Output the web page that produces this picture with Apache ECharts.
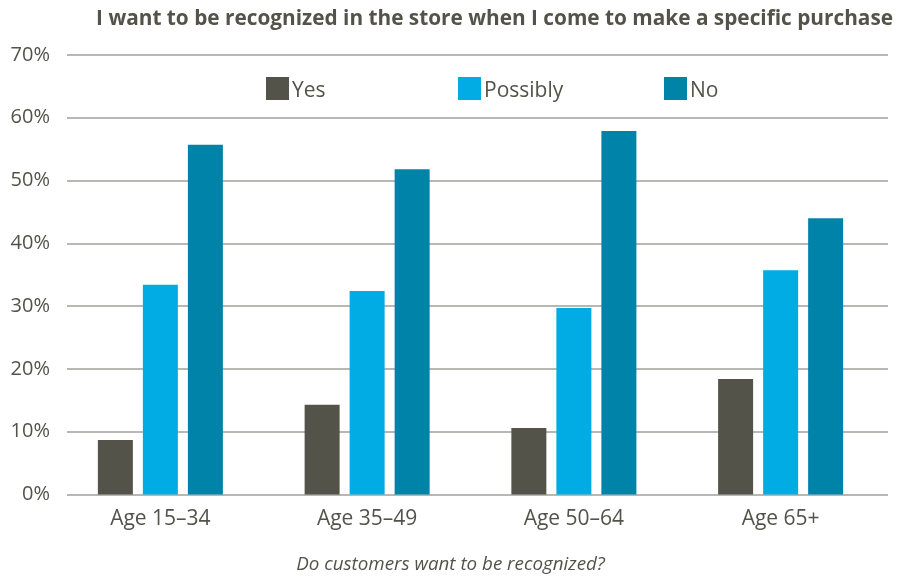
<!DOCTYPE html>
<html>
<head>
<meta charset="utf-8">
<script src="https://cdn.jsdelivr.net/npm/echarts@6/dist/echarts.min.js"></script>
<style>html,body{margin:0;padding:0;background:#fff;}#c{width:901px;height:576px;}</style>
</head>
<body>
<div id="c"></div>
<script>
var categories = ['Age 15–34', 'Age 35–49', 'Age 50–64', 'Age 65+'];
var seriesNames = ['Yes', 'Possibly', 'No'];
var yesValues = [8.7, 14.3, 10.6, 18.4];
var possiblyValues = [33.4, 32.4, 29.7, 35.7];
var noValues = [55.7, 51.8, 57.9, 44.0];
var yTicks = [0, 10, 20, 30, 40, 50, 60, 70];

var textColor = '#53534a';
var colors = ['#53534a', '#00ace3', '#0083a9'];
var font = '"Open Sans", sans-serif';

var chart = echarts.init(document.getElementById('c'), null, {renderer: 'canvas'});
var legendLefts = [266, 458, 664];
var option = {
  animation: false,
  color: colors,
  title: {
    text: 'I want to be recognized in the store when I come to make a specific purchase',
    right: 3, top: 4,
    textStyle: {fontFamily: font, fontWeight: 'bold', fontSize: 20.8, color: textColor}
  },
  graphic: [{
    type: 'text', left: 'center', top: 555,
    style: {text: 'Do customers want to be recognized?', font: 'italic 18.8px "Open Sans", sans-serif', fill: textColor}
  }],
  legend: seriesNames.map(function (n, i) {
    return {
      data: [n], left: legendLefts[i], top: 77, padding: 0,
      itemWidth: 23, itemHeight: 23, itemGap: 4,
      icon: 'rect',
      formatter: '{t|{name}}',
      textStyle: {
        fontFamily: font, fontSize: 21, color: textColor,
        rich: {t: {fontFamily: font, fontSize: 21, color: textColor, padding: [6, 0, 0, -2]}}
      }
    };
  }),
  grid: [
    {left: 67, right: 13, top: 55, bottom: 81.5, containLabel: false},
    {left: 57, width: 827, top: 55, bottom: 81.5, containLabel: false}
  ],
  xAxis: [
    {type: 'category', gridIndex: 0, data: categories, show: false},
    {
      type: 'category', gridIndex: 1, data: categories,
      axisLine: {show: false}, axisTick: {show: false},
      axisLabel: {fontFamily: font, fontSize: 21, color: textColor, margin: 14}
    }
  ],
  yAxis: [
    {
      type: 'value', gridIndex: 0, min: yTicks[0], max: yTicks[yTicks.length - 1], interval: 10,
      axisLine: {show: false}, axisTick: {show: false},
      splitLine: {lineStyle: {color: '#a0a09a', width: 1.5}},
      axisLabel: {fontFamily: font, fontSize: 20, color: textColor, margin: 17, formatter: '{value}%'}
    },
    {type: 'value', gridIndex: 1, min: yTicks[0], max: yTicks[yTicks.length - 1], show: false}
  ],
  series: [
    {name: seriesNames[0], type: 'bar', xAxisIndex: 1, yAxisIndex: 1, data: yesValues, barWidth: 35, barGap: '28.6%'},
    {name: seriesNames[1], type: 'bar', xAxisIndex: 1, yAxisIndex: 1, data: possiblyValues, barWidth: 35, barGap: '28.6%'},
    {name: seriesNames[2], type: 'bar', xAxisIndex: 1, yAxisIndex: 1, data: noValues, barWidth: 35, barGap: '28.6%'}
  ]
};
chart.setOption(option);
</script>
</body>
</html>
